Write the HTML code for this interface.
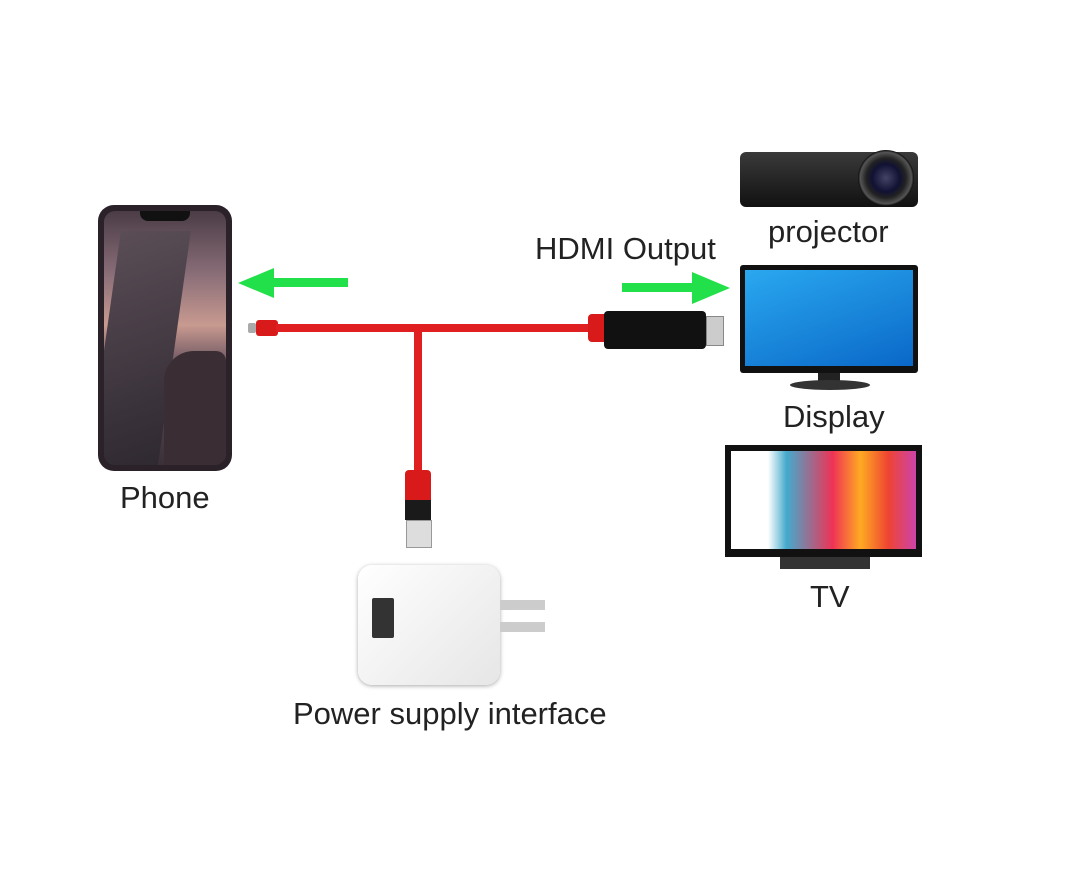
<!DOCTYPE html>
<html><head><meta charset="utf-8"><style>
body{margin:0;width:1080px;height:886px;background:#fff;position:relative;overflow:hidden;font-family:"Liberation Sans",sans-serif;}
.a{position:absolute}
.lbl{position:absolute;font-size:31px;color:#222;white-space:nowrap}
</style></head><body>
<!-- Phone -->
<div class="a" style="left:98px;top:205px;width:134px;height:266px;background:#2a2228;border-radius:16px;"></div>
<div class="a" style="left:104px;top:211px;width:122px;height:254px;border-radius:11px;background:linear-gradient(180deg,#4a3c46 0%,#8a6e78 25%,#c89a90 45%,#6b5560 60%,#3a3038 100%);overflow:hidden">
 <div class="a" style="left:0;top:20px;width:70px;height:240px;background:linear-gradient(160deg,#5a4d56,#2e2830);transform:skewX(-8deg)"></div>
 <div class="a" style="left:60px;top:140px;width:62px;height:120px;background:#3a2e34;border-radius:30px 10px 0 0"></div>
</div>
<div class="a" style="left:140px;top:211px;width:50px;height:10px;background:#111;border-radius:0 0 8px 8px"></div>
<div class="lbl" style="left:120px;top:480px">Phone</div>
<!-- green arrow left -->
<svg class="a" style="left:236px;top:268px" width="116" height="30"><rect x="32" y="10" width="80" height="9" fill="#22e04a"/><polygon points="2,15 38,0 38,30" fill="#22e04a"/></svg>
<!-- red cables -->
<div class="a" style="left:248px;top:323px;width:8px;height:10px;background:#aaa;border-radius:2px"></div>
<div class="a" style="left:256px;top:320px;width:22px;height:16px;background:#d81a1a;border-radius:3px"></div>
<div class="a" style="left:276px;top:324px;width:320px;height:8px;background:#e02020"></div>
<div class="a" style="left:414px;top:328px;width:8px;height:150px;background:#e02020"></div>
<div class="a" style="left:405px;top:470px;width:26px;height:36px;background:#d81a1a;border-radius:4px"></div>
<div class="a" style="left:405px;top:500px;width:26px;height:20px;background:#1a1a1a"></div>
<div class="a" style="left:406px;top:520px;width:24px;height:26px;background:#ddd;border:1px solid #999"></div>
<!-- HDMI connector -->
<div class="a" style="left:588px;top:314px;width:22px;height:28px;background:#d81a1a;border-radius:4px"></div>
<div class="a" style="left:604px;top:311px;width:102px;height:38px;background:#111;border-radius:4px"></div>
<div class="a" style="left:706px;top:316px;width:16px;height:28px;background:#ccc;border:1px solid #888"></div>
<!-- charger -->
<div class="a" style="left:358px;top:565px;width:142px;height:120px;background:linear-gradient(135deg,#fff,#e6e6e6);border-radius:14px;box-shadow:0 1px 4px #aaa"></div>
<div class="a" style="left:372px;top:598px;width:22px;height:40px;background:#333;border-radius:2px"></div>
<div class="a" style="left:500px;top:600px;width:45px;height:10px;background:#ccc"></div>
<div class="a" style="left:500px;top:622px;width:45px;height:10px;background:#ccc"></div>
<div class="lbl" style="left:293px;top:696px">Power supply interface</div>
<!-- HDMI output -->
<div class="lbl" style="left:535px;top:231px">HDMI Output</div>
<svg class="a" style="left:620px;top:272px" width="112" height="32"><rect x="2" y="11" width="72" height="9" fill="#22e04a"/><polygon points="110,16 72,0 72,32" fill="#22e04a"/></svg>
<!-- projector -->
<div class="a" style="left:740px;top:152px;width:178px;height:55px;background:linear-gradient(180deg,#3a3a3a,#111);border-radius:6px"></div>
<div class="a" style="left:858px;top:150px;width:56px;height:56px;background:radial-gradient(circle,#446 0,#113 35%,#222 50%,#555 65%,#111 70%);border-radius:50%"></div>
<div class="lbl" style="left:768px;top:214px">projector</div>
<!-- display -->
<div class="a" style="left:740px;top:265px;width:178px;height:108px;background:#111;border-radius:3px"></div>
<div class="a" style="left:745px;top:270px;width:168px;height:96px;background:linear-gradient(160deg,#2aa8ef,#0a68c8)"></div>
<div class="a" style="left:818px;top:373px;width:22px;height:8px;background:#222"></div>
<div class="a" style="left:790px;top:380px;width:80px;height:10px;background:#333;border-radius:50%"></div>
<div class="lbl" style="left:783px;top:399px">Display</div>
<!-- TV -->
<div class="a" style="left:725px;top:445px;width:197px;height:112px;background:#111"></div>
<div class="a" style="left:731px;top:451px;width:185px;height:98px;background:linear-gradient(90deg,#fff 0%,#fff 20%,#4ac 30%,#e35 55%,#fa2 70%,#e43 85%,#c4a 100%)"></div>
<div class="a" style="left:780px;top:557px;width:90px;height:12px;background:#333"></div>
<div class="lbl" style="left:810px;top:579px">TV</div>
</body></html>
